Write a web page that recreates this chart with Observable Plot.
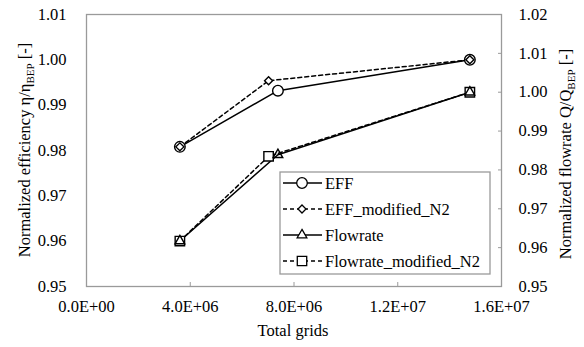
<!DOCTYPE html>
<html><head><meta charset="utf-8">
<script src="https://cdn.jsdelivr.net/npm/d3@7"></script>
<script src="https://cdn.jsdelivr.net/npm/@observablehq/plot@0.6"></script>
<style>body{margin:0;background:#fff}</style>
</head><body><div id="chart"></div>
<script>
// ---- data ----
const grids    = [3.6e6, 7.38e6, 14.78e6];
const gridsMod = [3.6e6, 7.02e6, 14.78e6];
const eff      = [0.9808, 0.9932, 1.0000];
const effMod   = [0.9808, 0.9954, 1.0000];
const flow     = [0.9617, 0.9839, 1.0000];
const flowMod  = [0.9617, 0.9835, 1.0000];
const xTicks     = [0, 4e6, 8e6, 1.2e7, 1.6e7];
const leftTicks  = [0.95, 0.96, 0.97, 0.98, 0.99, 1.00, 1.01];
const rightTicks = [0.95, 0.96, 0.97, 0.98, 0.99, 1.00, 1.01, 1.02];
const seriesNames = ["EFF", "EFF_modified_N2", "Flowrate", "Flowrate_modified_N2"];

// right axis [0.95,1.02] mapped onto left scale [0.95,1.01]
const toLeft = r => 0.95 + (r - 0.95) * (0.06 / 0.07);
const toRight = l => 0.95 + (l - 0.95) * (0.07 / 0.06);
const fmtE = d => {
  const [m, e] = d.toExponential(1).split("e");
  return m + "E" + e[0] + e.slice(1).padStart(2, "0");
};

const W = 584, H = 347, mL = 86, mR = 83, mT = 14, mB = 61;
const ink = "#000", gray = "#9a9a9a";
const font = "'Liberation Serif', 'Times New Roman', serif";
const fs = 16.5;

const chart = Plot.plot({
  width: W, height: H,
  marginLeft: mL, marginRight: mR, marginTop: mT, marginBottom: mB,
  style: {fontFamily: font, fontSize: fs + "px", background: "#fff", color: "#000"},
  x: {domain: [0, 1.6e7]},
  y: {domain: [0.95, 1.01]},
  marks: [
    Plot.frame({stroke: gray, strokeWidth: 1.3}),
    Plot.axisX(xTicks, {tickSize: 0, tickPadding: 14, tickFormat: fmtE, label: null, fill: "#000"}),
    Plot.axisX(xTicks, {tickSize: -4, text: null, stroke: gray, label: null}),
    Plot.axisY(leftTicks, {anchor: "left", tickSize: 0, tickPadding: 20, tickFormat: d => d.toFixed(2), label: null}),
    Plot.axisY(rightTicks.map(toLeft), {anchor: "right", tickSize: 0, tickPadding: 17, tickFormat: d => toRight(d).toFixed(2), label: null}),
    Plot.axisY(rightTicks.map(toLeft), {anchor: "right", tickSize: -4, text: null, stroke: gray, label: null}),
    // lines
    Plot.line(eff,     {x: (d, i) => grids[i],    y: d => d, stroke: ink, strokeWidth: 1.5}),
    Plot.line(effMod,  {x: (d, i) => gridsMod[i], y: d => d, stroke: ink, strokeWidth: 1.5, strokeDasharray: "4,3"}),
    Plot.line(flow,    {x: (d, i) => grids[i],    y: d => toLeft(d), stroke: ink, strokeWidth: 1.5}),
    Plot.line(flowMod, {x: (d, i) => gridsMod[i], y: d => toLeft(d), stroke: ink, strokeWidth: 1.5, strokeDasharray: "4,3"}),
    // markers
    Plot.dot(eff,     {x: (d, i) => grids[i],    y: d => d, symbol: "circle", r: 5.3, stroke: ink, strokeWidth: 1.4, fill: "#fff"}),
    Plot.dot(effMod,  {x: (d, i) => gridsMod[i], y: d => d, symbol: "diamond2", r: 3.6, stroke: ink, strokeWidth: 1.4, fill: "#fff"}),
    Plot.dot(flowMod, {x: (d, i) => gridsMod[i], y: d => toLeft(d), symbol: "square2", r: 6, stroke: ink, strokeWidth: 1.4, fill: "#fff"}),
    Plot.dot(flow,    {x: (d, i) => grids[i],    y: d => toLeft(d), symbol: "triangle2", r: 4.6, stroke: ink, strokeWidth: 1.4, fill: "none"})
  ]
});
document.getElementById("chart").append(chart);

const svg = d3.select(chart);
// axis titles
function rotTitle(x, y, main, sub, tail) {
  const t = svg.append("text").attr("transform", `translate(${x},${y}) rotate(-90)`)
    .attr("text-anchor", "middle").attr("font-family", font).attr("font-size", fs).attr("fill", "#000");
  t.append("tspan").text(main);
  t.append("tspan").attr("font-size", 11).attr("dy", 4).text(sub);
  t.append("tspan").attr("dy", -4).text(tail);
}
rotTitle(30, 150, "Normalized efficiency η/η", "BEP", " [-]");
rotTitle(571, 154, "Normalized flowrate Q/Q", "BEP", " [-]");
svg.append("text").attr("x", 293).attr("y", 336).attr("text-anchor", "middle")
  .attr("font-family", font).attr("font-size", fs).attr("fill", "#000").text("Total grids");

// legend
const lg = svg.append("g");
const lx = 280, ly = 172, lw = 210, lh = 102;
lg.append("rect").attr("x", lx).attr("y", ly).attr("width", lw).attr("height", lh)
  .attr("fill", "#fff").attr("stroke", gray).attr("stroke-width", 1.3);
const syms = [d3.symbolCircle, d3.symbolDiamond2, d3.symbolTriangle2, d3.symbolSquare2];
const rs = [5.3, 3.6, 4.6, 6];
const dashes = [null, "4,3", null, "4,3"];
seriesNames.forEach((name, i) => {
  const y = ly + 11 + i * 26;
  lg.append("line").attr("x1", lx + 3).attr("x2", lx + 42).attr("y1", y).attr("y2", y)
    .attr("stroke", ink).attr("stroke-width", 1.5).attr("stroke-dasharray", dashes[i]);
  lg.append("path").attr("transform", `translate(${lx + 22},${y})`)
    .attr("d", d3.symbol(syms[i], Math.PI * rs[i] * rs[i])())
    .attr("fill", "#fff").attr("stroke", ink).attr("stroke-width", 1.3);
  lg.append("text").attr("x", lx + 45).attr("y", y).attr("dy", "0.35em").attr("text-anchor", "start")
    .attr("font-family", font).attr("font-size", fs).attr("fill", "#000").text(name);
});
</script>
</body></html>
